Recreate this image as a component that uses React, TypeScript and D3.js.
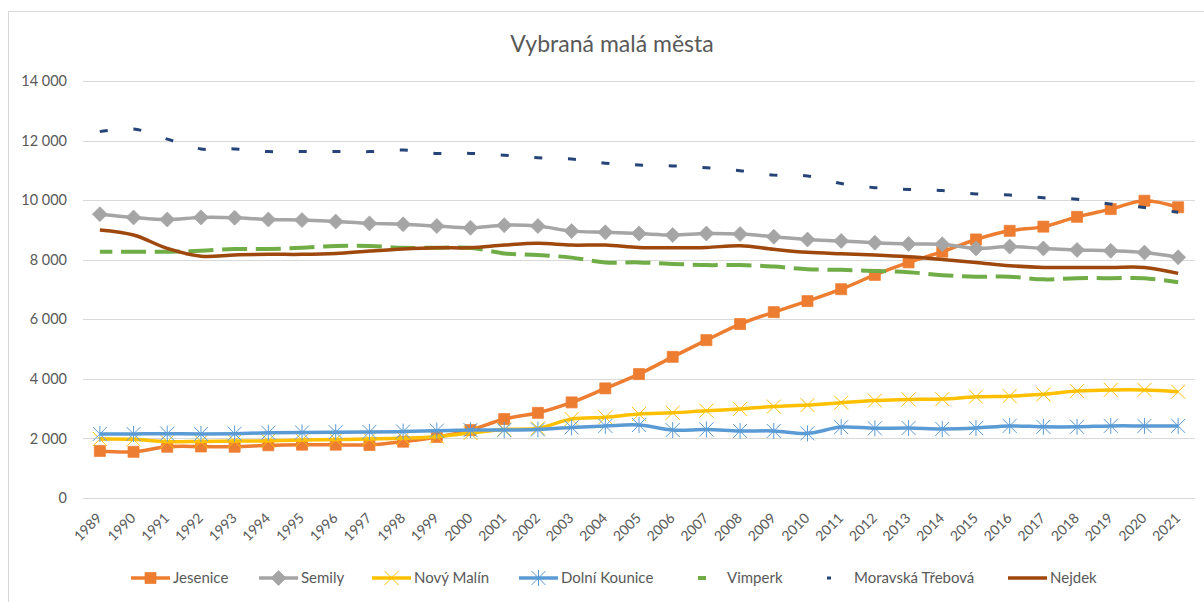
import * as d3 from 'd3';

const years = ['1989', '1990', '1991', '1992', '1993', '1994', '1995', '1996', '1997', '1998', '1999',
  '2000', '2001', '2002', '2003', '2004', '2005', '2006', '2007', '2008', '2009', '2010',
  '2011', '2012', '2013', '2014', '2015', '2016', '2017', '2018', '2019', '2020', '2021'];

const yTicks = [0, 2000, 4000, 6000, 8000, 10000, 12000, 14000];

const jesenice = [1580, 1550, 1720, 1730, 1720, 1770, 1790, 1790, 1780, 1890, 2050,
  2280, 2650, 2860, 3210, 3680, 4160, 4740, 5300, 5840, 6240, 6610,
  7010, 7490, 7910, 8270, 8680, 8970, 9110, 9440, 9700, 9980, 9760];
const semily = [9530, 9420, 9350, 9420, 9410, 9350, 9330, 9280, 9220, 9190, 9130,
  9070, 9160, 9130, 8960, 8920, 8880, 8830, 8880, 8860, 8770, 8680,
  8630, 8570, 8530, 8520, 8380, 8440, 8380, 8330, 8300, 8240, 8080];
const novyMalin = [1980, 1970, 1890, 1900, 1910, 1920, 1950, 1960, 1980, 2010, 2060,
  2180, 2300, 2340, 2650, 2710, 2820, 2860, 2930, 2990, 3070, 3120,
  3200, 3270, 3310, 3320, 3400, 3420, 3480, 3590, 3630, 3630, 3570];
const dolniKounice = [2150, 2150, 2160, 2150, 2160, 2190, 2200, 2210, 2220, 2230, 2260,
  2280, 2280, 2300, 2370, 2420, 2450, 2280, 2300, 2250, 2250, 2170,
  2380, 2340, 2350, 2320, 2350, 2420, 2390, 2390, 2420, 2420, 2420];
const vimperk = [8270, 8270, 8270, 8300, 8360, 8360, 8400, 8460, 8460, 8400, 8400,
  8400, 8210, 8160, 8070, 7910, 7910, 7860, 7820, 7820, 7770, 7680,
  7660, 7620, 7580, 7480, 7430, 7430, 7340, 7380, 7380, 7380, 7240];
const moravskaTrebova = [12300, 12390, 12050, 11720, 11720, 11630, 11630, 11630, 11630, 11680, 11570,
  11570, 11510, 11420, 11380, 11240, 11180, 11150, 11090, 10990, 10840, 10810,
  10560, 10420, 10360, 10320, 10210, 10170, 10080, 10030, 9870, 9750, 9590];
const nejdek = [9000, 8830, 8380, 8120, 8160, 8180, 8180, 8210, 8290, 8360, 8400,
  8400, 8490, 8550, 8490, 8490, 8410, 8400, 8410, 8470, 8350, 8250,
  8200, 8160, 8100, 8010, 7910, 7800, 7740, 7740, 7740, 7740, 7540];

type Marker = 'square' | 'diamond' | 'x' | 'star' | 'none';

interface Series {
  name: string;
  values: number[];
  color: string;
  marker: Marker;
  dash?: string;
  dashOffset?: number;
  legendX: number;
}

const series: Series[] = [
  { name: 'Jesenice', values: jesenice, color: '#ED7D31', marker: 'square', legendX: 131 },
  { name: 'Semily', values: semily, color: '#A5A5A5', marker: 'diamond', legendX: 259 },
  { name: 'Nový Malín', values: novyMalin, color: '#FFC000', marker: 'x', legendX: 372 },
  { name: 'Dolní Kounice', values: dolniKounice, color: '#5B9BD5', marker: 'star', legendX: 519 },
  { name: 'Vimperk', values: vimperk, color: '#70AD47', marker: 'none', dash: '25 8.7', dashOffset: 12.5, legendX: 687 },
  { name: 'Moravská Třebová', values: moravskaTrebova, color: '#264478', marker: 'none', dash: '8 25.7', dashOffset: 0, legendX: 814 },
  { name: 'Nejdek', values: nejdek, color: '#9E480E', marker: 'none', legendX: 1008 },
];

const W = 1204;
const H = 602;
const FONT = 'Lato, "Open Sans", sans-serif';
const TEXT = '#595959';

const x = d3.scalePoint<string>().domain(years).range([83, 1195]).padding(0.5);
const y = d3.scaleLinear().domain([0, 14000]).range([498, 81]);

const fmt = d3.formatLocale({ decimal: ',', thousands: ' ', grouping: [3], currency: ['', ''] }).format(',');

const line = d3.line<number>()
  .x((_, i) => x(years[i])!)
  .y((d) => y(d))
  .curve(d3.curveCatmullRom);

function markerPath(m: Marker, cx: number, cy: number): string {
  if (m === 'square') {
    const s = 5.5;
    return `M${cx - s},${cy - s}h${2 * s}v${2 * s}h${-2 * s}Z`;
  }
  if (m === 'diamond') {
    const s = 7.5;
    return `M${cx},${cy - s}L${cx + s},${cy}L${cx},${cy + s}L${cx - s},${cy}Z`;
  }
  if (m === 'x') {
    const s = 7;
    return `M${cx - s},${cy - s}L${cx + s},${cy + s}M${cx - s},${cy + s}L${cx + s},${cy - s}`;
  }
  if (m === 'star') {
    const s = 7;
    return `M${cx - s},${cy - s}L${cx + s},${cy + s}M${cx - s},${cy + s}L${cx + s},${cy - s}M${cx},${cy - s - 1}L${cx},${cy + s + 1}`;
  }
  return '';
}

function MarkerShape({ m, cx, cy, color }: { m: Marker; cx: number; cy: number; color: string }) {
  if (m === 'none') return null;
  const filled = m === 'square' || m === 'diamond';
  return (
    <path
      d={markerPath(m, cx, cy)}
      fill={filled ? color : 'none'}
      stroke={color}
      strokeWidth={filled ? 0.75 : 1}
    />
  );
}

export default function App() {
  const legendY = 578;
  return (
    <svg width={W} height={H} style={{ position: 'absolute', left: 0, top: 0, background: '#fff' }}>
      <rect x={8.5} y={11.5} width={W} height={H} fill="#fff" stroke="#d9d9d9" strokeWidth={1} />

      <text x={612} y={52} textAnchor="middle" fontFamily={FONT} fontSize={23} fill={TEXT}>
        Vybraná malá města
      </text>

      {yTicks.map((t) => (
        <g key={t}>
          <line x1={83} x2={1195} y1={Math.round(y(t)) + 0.5} y2={Math.round(y(t)) + 0.5} stroke="#d9d9d9" strokeWidth={1} />
          <text x={67} y={y(t)} dy="0.35em" textAnchor="end" fontFamily={FONT} fontSize={14.5} fill={TEXT}>
            {fmt(t)}
          </text>
        </g>
      ))}

      {years.map((yr) => (
        <text
          key={yr}
          transform={`translate(${x(yr)! + 3},${519}) rotate(-45)`}
          textAnchor="end"
          fontFamily={FONT}
          fontSize={14}
          fill={TEXT}
        >
          {yr}
        </text>
      ))}

      {series.map((s) => (
        <g key={s.name}>
          <path
            d={line(s.values)!}
            fill="none"
            stroke={s.color}
            strokeWidth={s.dash ? (s.name === 'Vimperk' ? 4 : 3) : 3.5}
            strokeDasharray={s.dash}
            strokeDashoffset={s.dashOffset}
            strokeLinejoin="round"
          />
          {s.values.map((v, i) => (
            <MarkerShape key={i} m={s.marker} cx={x(years[i])!} cy={y(v)} color={s.color} />
          ))}
        </g>
      ))}

      {series.map((s) => {
        const lx = s.legendX;
        let sample;
        if (s.name === 'Vimperk') {
          sample = <line x1={lx + 11} x2={lx + 19} y1={legendY} y2={legendY} stroke={s.color} strokeWidth={4} />;
        } else if (s.name === 'Moravská Třebová') {
          sample = <line x1={lx + 13} x2={lx + 17} y1={legendY} y2={legendY} stroke={s.color} strokeWidth={3} />;
        } else {
          sample = (
            <g>
              <line x1={lx} x2={lx + 39} y1={legendY} y2={legendY} stroke={s.color} strokeWidth={3.5} />
              <MarkerShape m={s.marker} cx={lx + 19.5} cy={legendY} color={s.color} />
            </g>
          );
        }
        const tx = s.name === 'Vimperk' ? 727 : s.name === 'Moravská Třebová' ? 854 : lx + 42;
        return (
          <g key={`lg-${s.name}`}>
            {sample}
            <text x={tx} y={legendY} dy="0.35em" fontFamily={FONT} fontSize={15} fill={TEXT}>
              {s.name}
            </text>
          </g>
        );
      })}
    </svg>
  );
}
